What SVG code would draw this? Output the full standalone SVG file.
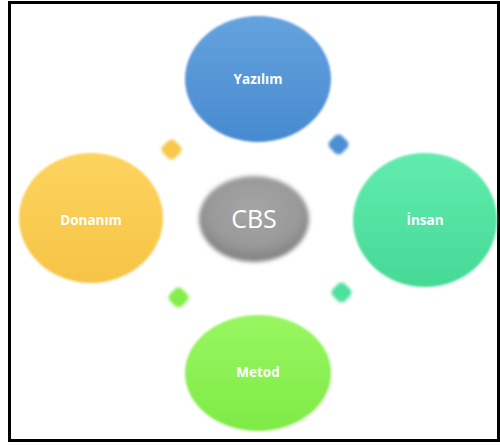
<svg xmlns="http://www.w3.org/2000/svg" width="500" height="445" viewBox="0 0 500 445">
<style>
.lbl{font-family:"Open Sans","Liberation Sans",sans-serif;font-weight:bold;font-size:13.5px;fill:#ffffff;text-anchor:middle}
.cbs{font-family:"Open Sans","Liberation Sans",sans-serif;font-size:25px;fill:#ffffff;text-anchor:middle}
</style>
<defs>
<filter id="soft" x="-10%" y="-10%" width="120%" height="120%"><feGaussianBlur stdDeviation="1.3"/></filter>
<filter id="soft2" x="-50%" y="-50%" width="200%" height="200%"><feGaussianBlur stdDeviation="1.8"/></filter>
<filter id="soft3" x="-20%" y="-20%" width="140%" height="140%"><feGaussianBlur stdDeviation="2.2"/></filter>
<linearGradient id="gBlue" x1="0" y1="0" x2="0" y2="1"><stop offset="0" stop-color="#64a3de"/><stop offset="1" stop-color="#488ad0"/></linearGradient>
<linearGradient id="gOrange" x1="0" y1="0" x2="0" y2="1"><stop offset="0" stop-color="#fdd45e"/><stop offset="1" stop-color="#f6c446"/></linearGradient>
<linearGradient id="gTeal" x1="0" y1="0" x2="0" y2="1"><stop offset="0" stop-color="#62ecaf"/><stop offset="1" stop-color="#46d996"/></linearGradient>
<linearGradient id="gGreen" x1="0" y1="0" x2="0" y2="1"><stop offset="0" stop-color="#98f762"/><stop offset="1" stop-color="#7fea46"/></linearGradient>
<radialGradient id="gGray" cx="0.5" cy="0.4" r="0.6"><stop offset="0" stop-color="#a6a6a6"/><stop offset="0.7" stop-color="#999999"/><stop offset="1" stop-color="#7f7f7f"/></radialGradient>
</defs>
<rect x="9.5" y="2.5" width="489" height="438" fill="#ffffff" stroke="#000000" stroke-width="3"/>
<g id="connectors">
<rect x="163" y="141" width="17" height="17" rx="5" fill="#f8c74c" filter="url(#soft2)" transform="rotate(45 171.5 149.5)"/>
<rect x="330" y="136" width="17" height="17" rx="5" fill="#4d8fd4" filter="url(#soft2)" transform="rotate(45 338.5 144.5)"/>
<rect x="170" y="289" width="17" height="17" rx="5" fill="#83ee4c" filter="url(#soft2)" transform="rotate(45 178.5 297.5)"/>
<rect x="333" y="284" width="17" height="17" rx="5" fill="#4fe09e" filter="url(#soft2)" transform="rotate(45 341.5 292.5)"/>
</g>
<g id="cbs">
<ellipse cx="254" cy="219" rx="55" ry="43" fill="url(#gGray)" filter="url(#soft3)"/>
<text class="cbs" x="254" y="228">CBS</text>
</g>
<g id="yazilim">
<ellipse cx="258" cy="79" rx="73" ry="63" fill="url(#gBlue)" filter="url(#soft)"/>
<text class="lbl" x="258" y="84">Yazılım</text>
</g>
<g id="donanim">
<ellipse cx="91" cy="218" rx="72" ry="65" fill="url(#gOrange)" filter="url(#soft)"/>
<text class="lbl" x="91" y="225">Donanım</text>
</g>
<g id="insan">
<ellipse cx="425" cy="220" rx="72" ry="67" fill="url(#gTeal)" filter="url(#soft)"/>
<text class="lbl" x="425" y="225">İnsan</text>
</g>
<g id="metod">
<ellipse cx="258" cy="373" rx="73" ry="58" fill="url(#gGreen)" filter="url(#soft)"/>
<text class="lbl" x="258" y="377">Metod</text>
</g>
</svg>
